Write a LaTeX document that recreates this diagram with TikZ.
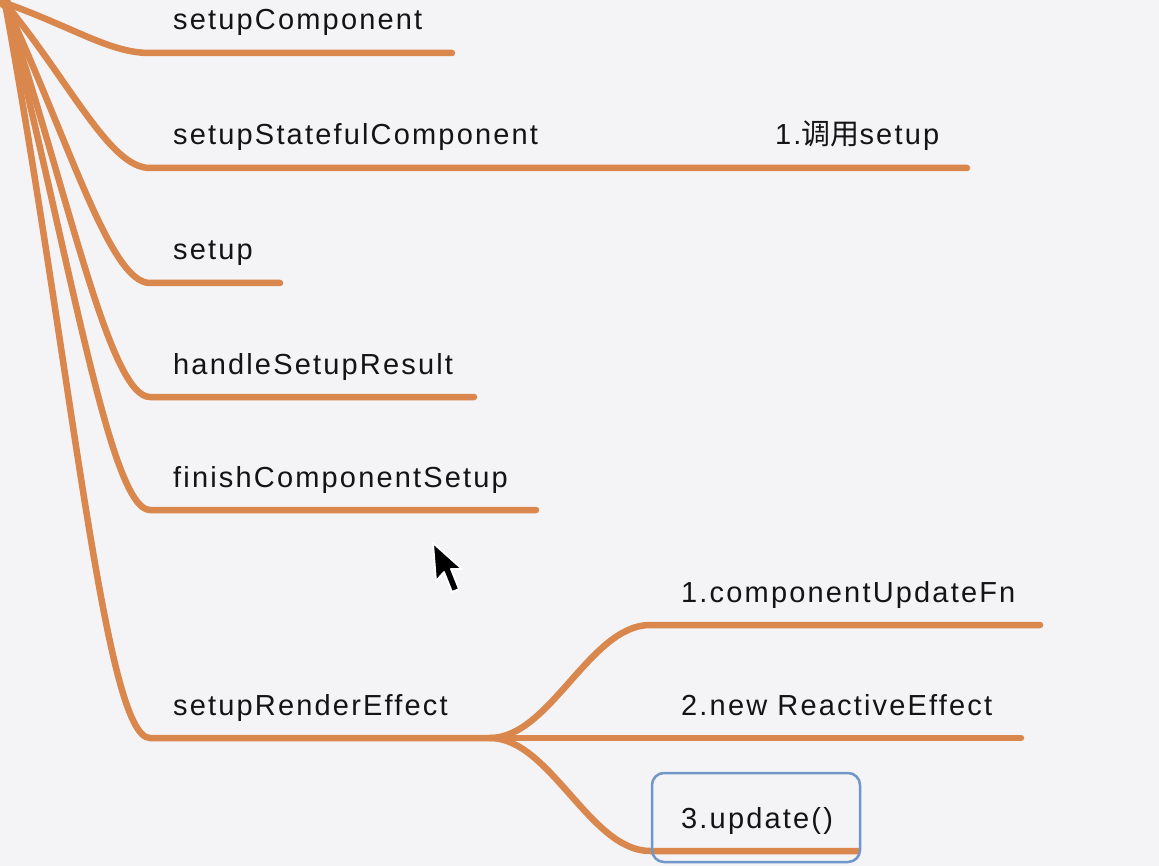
\documentclass[tikz,border=0pt]{standalone}
\usepackage{fontspec}
\setmainfont{Liberation Sans}[LetterSpace=7.5]
\newfontfamily\cjk{Noto Sans CJK SC}
\definecolor{bgc}{HTML}{F4F3F6}
\definecolor{branch}{HTML}{D9874C}
\definecolor{boxc}{HTML}{7196C8}
\tikzset{
  bline/.style={draw=branch, line width=6.5pt, line cap=round},
  lbl/.style={anchor=base west, inner sep=0pt, font=\fontsize{29}{31}\selectfont, text=black!92},
  hibox/.style={draw=boxc, line width=2.5pt, rounded corners=12pt, minimum width=208pt, minimum height=89pt, inner sep=0pt},
}
\begin{document}
\begin{tikzpicture}[x=1pt,y=-1pt]
\useasboundingbox (0,0) rectangle (1159,866);
\fill[bgc] (0,0) rectangle (1159,866);

% root (off-picture parent) and branch points
\coordinate (root) at (5,3);
\coordinate (e1) at (452,53);
\coordinate (e2) at (967,168);
\coordinate (e3) at (280,283);
\coordinate (e4) at (474,397);
\coordinate (e5) at (536,510);
\coordinate (bp) at (490,738);
\coordinate (f1) at (1040,625);
\coordinate (f2) at (1021,738);
\coordinate (f3) at (858,851);

% labels
\node[lbl] (n1) at (173,30) {setupComponent};
\node[lbl] (n2) at (173,145) {setupStatefulComponent};
\node[lbl] (n2a) at (775,145) {1.{\cjk 调用}setup};
\node[lbl] (n3) at (173,260) {setup};
\node[lbl] (n4) at (173,374) {handleSetupResult};
\node[lbl] (n5) at (173,487) {finishComponentSetup};
\node[lbl] (n6) at (173,715) {setupRenderEffect};
\node[lbl] (m1) at (681,602) {1.componentUpdateFn};
\node[lbl] (m2) at (681,715) {2.new ReactiveEffect};
\node[lbl] (m3) at (681,828) {3.update()};

% thicker junction at the root
\fill[branch] (root) circle (6pt);

% main branches
\draw[bline] (root) .. controls (75,28) and (110,53) .. (150,53) -- (e1);
\draw[bline] (root) .. controls (72,85) and (110,168) .. (150,168) -- (e2);
\draw[bline] (root) .. controls (70,143) and (110,283) .. (150,283) -- (e3);
\draw[bline] (root) .. controls (70,200) and (110,397) .. (150,397) -- (e4);
\draw[bline] (root) .. controls (70,256) and (110,510) .. (150,510) -- (e5);
\draw[bline] (root) .. controls (72,370) and (105,738) .. (150,738) -- (bp);

% sub branches of setupRenderEffect
\draw[bline] (bp) .. controls (550,738) and (590,625) .. (650,625) -- (f1);
\draw[bline] (bp) -- (f2);
\draw[bline] (bp) .. controls (550,738) and (590,851) .. (650,851) -- (f3);

% highlight box
\node[hibox] (hb) at (756,817.5) {};

% mouse pointer
\filldraw[fill=black, draw=white, line width=1.8pt, line join=round]
  (433,543) -- (436,581) -- (444,572) -- (452,592) -- (459,589) -- (451,569) -- (462,569) -- cycle;
\end{tikzpicture}
\end{document}
